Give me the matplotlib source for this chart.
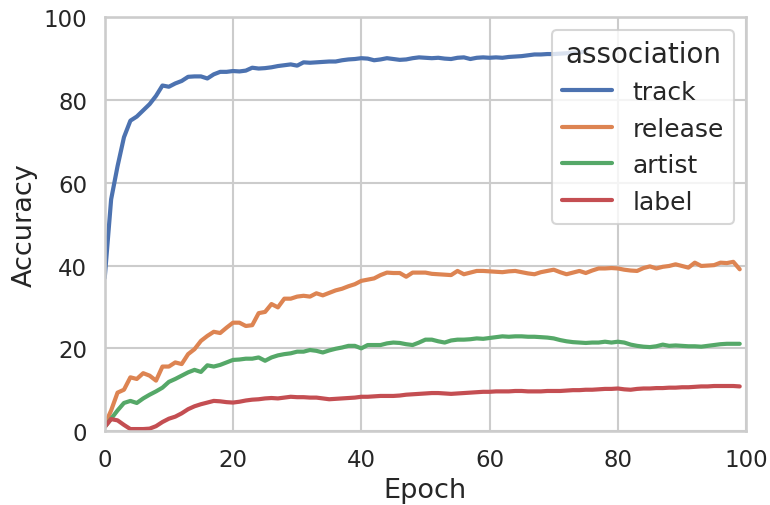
import matplotlib
matplotlib.use("Agg")
import matplotlib.pyplot as plt
import numpy as np
import seaborn as sns

# accuracy per epoch
track = [37, 56, 64, 71, 75, 76, 77.5, 79, 81, 83.5,
         83.2, 84, 84.6, 85.6, 85.7, 85.7, 85.2, 86.2, 86.8, 86.8,
         87.0, 86.9, 87.1, 87.8, 87.6, 87.7, 87.9, 88.2, 88.4, 88.6,
         88.3, 89.1, 89.0, 89.1, 89.2, 89.3, 89.3, 89.6, 89.8, 89.9,
         90.1, 90.0, 89.6, 89.8, 90.1, 89.9, 89.7, 89.8, 90.1, 90.3,
         90.2, 90.1, 90.2, 90.0, 89.9, 90.2, 90.3, 89.9, 90.2, 90.3,
         90.2, 90.3, 90.2, 90.4, 90.5, 90.6, 90.8, 91.0, 91.0, 91.1,
         91.1, 91.2, 91.3, 91.4, 91.5, 91.7]

release = [1.5, 5, 9.3, 10, 13, 12.6, 14, 13.4, 12.2, 15.6,
           15.6, 16.6, 16.2, 18.6, 19.8, 21.8, 23, 24, 23.7, 25,
           26.2, 26.2, 25.4, 25.6, 28.5, 28.8, 30.7, 29.9, 32, 32,
           32.5, 32.7, 32.5, 33.3, 32.8, 33.4, 34, 34.4, 35, 35.5,
           36.3, 36.6, 36.9, 37.7, 38.3, 38.2, 38.2, 37.3, 38.3, 38.3,
           38.3, 38.0, 37.9, 37.8, 37.7, 38.7, 37.9, 38.3, 38.7, 38.7,
           38.6, 38.5, 38.4, 38.6, 38.7, 38.4, 38.1, 37.9, 38.4, 38.7,
           39.0, 38.4, 37.9, 38.3, 38.7, 38.2, 38.8, 39.3, 39.3, 39.4,
           39.3, 39.0, 38.8, 38.7, 39.4, 39.8, 39.3, 39.7, 39.9, 40.3,
           39.9, 39.5, 40.7, 39.9, 40.0, 40.1, 40.7, 40.6, 40.9, 39.1]

artist = [1, 3, 5, 6.8, 7.3, 6.8, 7.9, 8.8, 9.6, 10.5,
          11.9, 12.6, 13.4, 14.2, 14.8, 14.3, 15.9, 15.6, 16.0, 16.6,
          17.2, 17.3, 17.5, 17.5, 17.8, 17.0, 17.8, 18.3, 18.6, 18.8,
          19.2, 19.2, 19.6, 19.4, 19.0, 19.5, 19.9, 20.2, 20.6, 20.6,
          20.0, 20.8, 20.8, 20.8, 21.2, 21.4, 21.3, 21.0, 20.8, 21.4,
          22.1, 22.1, 21.7, 21.4, 21.9, 22.1, 22.1, 22.2, 22.4, 22.3,
          22.5, 22.7, 22.9, 22.8, 22.9, 22.9, 22.8, 22.8, 22.7, 22.6,
          22.4, 22.0, 21.7, 21.5, 21.4, 21.3, 21.4, 21.4, 21.6, 21.4,
          21.6, 21.4, 20.9, 20.6, 20.4, 20.3, 20.5, 20.9, 20.6, 20.7,
          20.6, 20.5, 20.5, 20.4, 20.6, 20.8, 21.0, 21.1, 21.1, 21.1]

label = [1, 2.9, 2.6, 1.5, 0.5, 0.5, 0.5, 0.6, 1.2, 2.2,
         3.0, 3.5, 4.3, 5.3, 6.0, 6.5, 6.9, 7.3, 7.2, 7.0,
         6.9, 7.1, 7.4, 7.6, 7.7, 7.9, 8.0, 7.9, 8.1, 8.3,
         8.2, 8.2, 8.1, 8.1, 7.9, 7.7, 7.8, 7.9, 8.0, 8.1,
         8.3, 8.3, 8.4, 8.5, 8.5, 8.5, 8.6, 8.8, 8.9, 9.0,
         9.1, 9.2, 9.2, 9.1, 9.0, 9.1, 9.2, 9.3, 9.4, 9.5,
         9.5, 9.6, 9.6, 9.6, 9.7, 9.7, 9.6, 9.6, 9.6, 9.7,
         9.7, 9.7, 9.8, 9.9, 9.9, 10.0, 10.0, 10.1, 10.2, 10.2,
         10.3, 10.1, 10.0, 10.2, 10.3, 10.3, 10.4, 10.4, 10.5, 10.5,
         10.6, 10.6, 10.7, 10.8, 10.8, 10.9, 10.9, 10.9, 10.9, 10.8]

series = {"track": track, "release": release, "artist": artist, "label": label}

sns.set_theme(style="whitegrid", context="talk")

fig, ax = plt.subplots(figsize=(7.7, 5.06), dpi=100)
for name, vals in series.items():
    ax.plot(np.arange(len(vals)), vals, label=name, lw=3)

ax.set_xlim(0, 100)
ax.set_ylim(0, 100)
ax.set_xlabel("Epoch", fontsize=19.5)
ax.set_ylabel("Accuracy", fontsize=19.5)
ax.tick_params(labelsize=16.5)
leg = ax.legend(title="association", loc="upper right", fontsize=18,
                title_fontsize=20)

fig.subplots_adjust(left=0.136, right=0.969, top=0.964, bottom=0.146)
fig.savefig("out.png", dpi=100)
